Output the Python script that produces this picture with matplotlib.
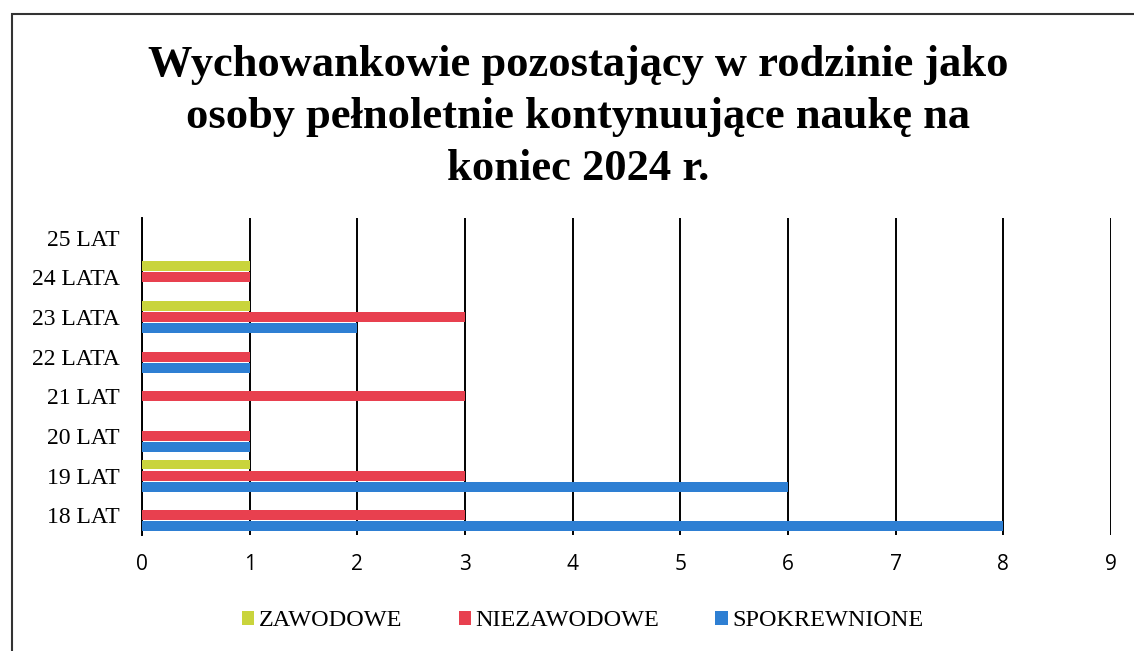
import matplotlib.pyplot as plt
import numpy as np
from matplotlib.patches import Rectangle

# dane
kategorie = ['18 LAT', '19 LAT', '20 LAT', '21 LAT', '22 LATA', '23 LATA', '24 LATA', '25 LAT']
zawodowe = [0, 1, 0, 0, 0, 1, 1, 0]
niezawodowe = [3, 3, 1, 3, 1, 3, 1, 0]
spokrewnione = [8, 6, 1, 0, 1, 2, 0, 0]
serie = ['ZAWODOWE', 'NIEZAWODOWE', 'SPOKREWNIONE']
kolory = ['#c9d43c', '#e8404f', '#2e7fd3']

fig = plt.figure(figsize=(11.34, 6.51), dpi=100)
ax = fig.add_axes([142 / 1134, 1 - 535 / 651, (1111 - 142) / 1134, (535 - 218) / 651])

y = np.arange(len(kategorie))
h = 0.25
off = 0.28
ax.barh(y + off, zawodowe, height=h, color=kolory[0], label=serie[0], zorder=3)
ax.barh(y, niezawodowe, height=h, color=kolory[1], label=serie[1], zorder=3)
ax.barh(y - off, spokrewnione, height=h, color=kolory[2], label=serie[2], zorder=3)

ax.set_xlim(0, 9)
ax.set_ylim(-0.5, 7.5)
ax.set_xticks(range(10))
ax.set_yticks(y)
ax.set_yticklabels(kategorie, family='Liberation Serif', fontsize=17)
for t in ax.get_xticklabels():
    t.set_family('Open Sans')
    t.set_fontsize(15)
ax.tick_params(length=0)
ax.tick_params(axis='x', pad=14)
ax.tick_params(axis='y', pad=16)
ax.grid(axis='x', color='black', linewidth=1.4, zorder=1)
for s in ['top', 'right', 'bottom']:
    ax.spines[s].set_visible(False)
ax.spines['left'].set_linewidth(1.4)

fig.text(0.51, 1 - 117 / 651,
         'Wychowankowie pozostający w rodzinie jako\nosoby pełnoletnie kontynuujące naukę na\nkoniec 2024 r.',
         ha='center', va='center', family='Liberation Serif', fontweight='bold',
         fontsize=32, linespacing=1.4)

fig.legend(loc='center', bbox_to_anchor=(583 / 1134, 1 - 621 / 651), ncol=3, frameon=False,
           prop={'family': 'Liberation Serif', 'size': 17.5}, handlelength=0.5, handleheight=0.5,
           handletextpad=0.2, columnspacing=2.3)

# ramka
fig.patches.append(Rectangle((12 / 1134, -0.05), 1.1, 1 - 14 / 651 + 0.05, transform=fig.transFigure,
                             fill=False, edgecolor='#333333', linewidth=1.5))

fig.savefig('out.png', dpi=100)
